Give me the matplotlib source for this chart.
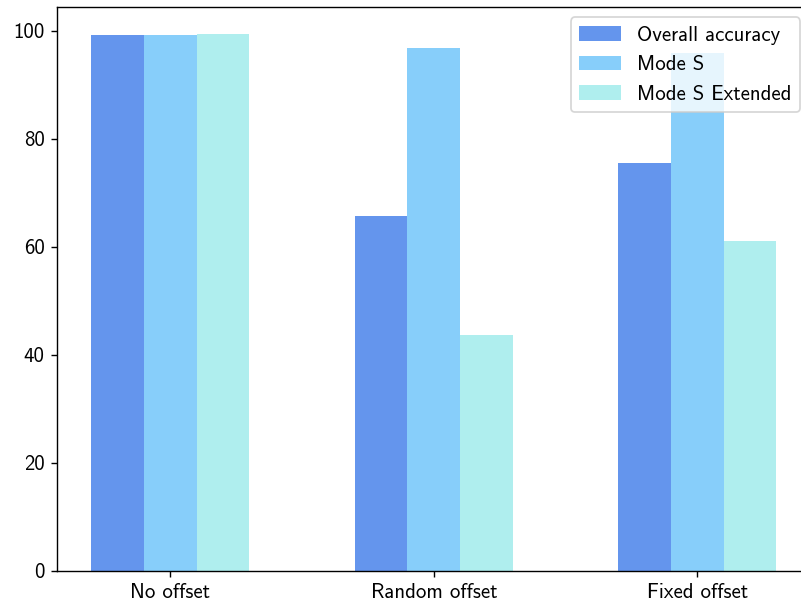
import matplotlib
matplotlib.use("Agg")
import matplotlib.pyplot as plt
import numpy as np

categories = ["No offset", "Random offset", "Fixed offset"]
series_names = ["Overall accuracy", "Mode S", "Mode S Extended"]
overall = [99.3, 65.7, 75.5]
mode_s = [99.3, 96.85, 95.93]
mode_s_ext = [99.44, 43.66, 61.1]
colors = ["cornflowerblue", "lightskyblue", "paleturquoise"]

plt.rcParams['font.family'] = ['cmss10', 'DejaVu Sans']
plt.rcParams['font.size'] = 12
plt.rcParams['axes.formatter.use_mathtext'] = False

W, H = 801, 606
DPI = 125
fig = plt.figure(figsize=(W / DPI, H / DPI), dpi=DPI)
left, right, top, bottom = 57, 810.6, 7, 571
ax = fig.add_axes([left / W, 1 - bottom / H, (right - left) / W, (bottom - top) / H])

x = np.arange(len(categories))
w = 0.2
for i, (vals, name) in enumerate(zip([overall, mode_s, mode_s_ext], series_names)):
    ax.bar(x + (i - 1) * w, vals, w, color=colors[i], label=name)

ax.set_xticks(x)
ax.set_xticklabels(categories)
ax.legend(loc="upper right")
fig.savefig("out.png", dpi=DPI)
